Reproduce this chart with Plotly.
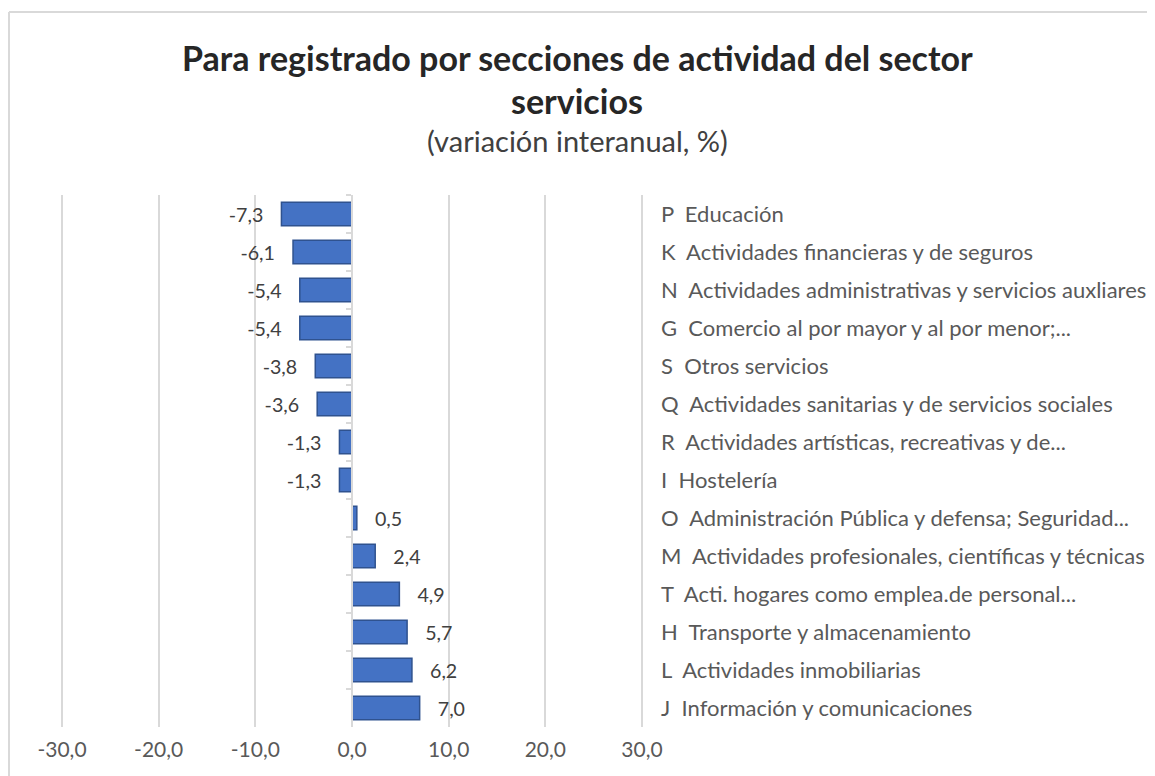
import plotly.graph_objects as go

categories = [
    "P\u00a0 Educación",
    "K\u00a0 Actividades financieras y de seguros",
    "N\u00a0 Actividades administrativas y servicios auxliares",
    "G\u00a0 Comercio al por mayor y al por menor;...",
    "S\u00a0 Otros servicios",
    "Q\u00a0 Actividades sanitarias y de servicios sociales",
    "R\u00a0 Actividades artísticas, recreativas y de...",
    "I\u00a0 Hostelería",
    "O\u00a0 Administración Pública y defensa; Seguridad...",
    "M\u00a0 Actividades profesionales, científicas y técnicas",
    "T\u00a0 Acti. hogares como emplea.de personal...",
    "H\u00a0 Transporte y almacenamiento",
    "L\u00a0 Actividades inmobiliarias",
    "J\u00a0 Información y comunicaciones",
]
values = [-7.3, -6.1, -5.4, -5.4, -3.8, -3.6, -1.3, -1.3, 0.5, 2.4, 4.9, 5.7, 6.2, 7.0]
x_ticks = [-30, -20, -10, 0, 10, 20, 30]
x_tick_labels = ["-30,0", "-20,0", "-10,0", "0,0", "10,0", "20,0", "30,0"]

title_line1 = "Para registrado por secciones de actividad del sector"
title_line2 = "servicios"
subtitle = "(variación interanual, %)"

FONT = "Lato"
NB = "\u00a0"


def fmt(v):
    s = f"{v:.1f}".replace(".", ",")
    return (s + NB * 3) if v < 0 else (NB * 3 + s)


labels = [fmt(v) for v in values]

# page offset compensation (browser body margin)
OFF = 8
W, H = 1155 - OFF, 776 - OFF
# -30 / +30 gridlines sit at reference x = 62 / 642; widen plot by PAD px each side
PAD = 6
SCALE = (642 - 62) / 60.0  # px per unit
XR = 30 + PAD / SCALE
L, R = 62 - PAD - OFF, 642 + PAD - OFF
T, B = 195 - OFF, 727 - OFF


def px_x(p):
    # reference-picture x pixel -> paper fraction
    return (p - OFF - L) / (R - L)


def px_y(p):
    return (B - (p - OFF)) / (B - T)


fig = go.Figure()
fig.add_trace(go.Bar(
    x=values, y=categories, orientation="h",
    marker=dict(color="#4472C4", line=dict(color="#2F528F", width=1.5)),
    width=0.62,
    text=labels, textposition="outside", cliponaxis=False,
    textfont=dict(family=FONT, size=20, color="#404040"),
    hoverinfo="skip", showlegend=False,
))
# invisible trace carrying the right-hand category labels
fig.add_trace(go.Scatter(
    x=[0] * len(categories), y=categories, yaxis="y2", mode="markers",
    marker=dict(opacity=0), hoverinfo="skip", showlegend=False,
))

n = len(categories)
fig.update_layout(
    width=W, height=H,
    margin=dict(l=L, r=W - R, t=T, b=H - B, autoexpand=False),
    paper_bgcolor="white", plot_bgcolor="white",
    font=dict(family=FONT, color="#595959"),
    xaxis=dict(
        range=[-XR, XR], tickvals=x_ticks, ticktext=x_tick_labels,
        showgrid=True, gridcolor="#D9D9D9", gridwidth=1.5,
        zeroline=False, showline=False, ticks="",
        tickfont=dict(family=FONT, size=21, color="#595959"),
        ticklabelstandoff=8, automargin=False,
    ),
    yaxis=dict(
        type="category", categoryorder="array", categoryarray=categories,
        range=[n - 0.5, -0.5], anchor="free", position=0.5,
        showline=True, linecolor="#D9D9D9", linewidth=1.5,
        ticks="outside", ticklen=5, tickcolor="#D9D9D9", tickwidth=1.5,
        tickson="boundaries", showticklabels=False, showgrid=False,
        automargin=False,
    ),
    yaxis2=dict(
        type="category", categoryorder="array", categoryarray=categories,
        range=[n - 0.5, -0.5], overlaying="y", side="right", anchor="x",
        showline=False, ticks="", showgrid=False, showticklabels=True,
        tickfont=dict(family=FONT, size=22, color="#595959"),
        ticklabelstandoff=18 - PAD, automargin=False,
    ),
    annotations=[
        dict(text=f"<b>{title_line1}</b>", xref="paper", yref="paper",
             x=px_x(577), y=px_y(57), xanchor="center", yanchor="middle",
             showarrow=False, font=dict(family=FONT, size=34, color="#262626")),
        dict(text=f"<b>{title_line2}</b>", xref="paper", yref="paper",
             x=px_x(577), y=px_y(101), xanchor="center", yanchor="middle",
             showarrow=False, font=dict(family=FONT, size=34, color="#262626")),
        dict(text=subtitle, xref="paper", yref="paper",
             x=px_x(577), y=px_y(140), xanchor="center", yanchor="middle",
             showarrow=False, font=dict(family=FONT, size=29, color="#404040")),
    ],
    shapes=[
        dict(type="line", xref="paper", yref="paper", x0=px_x(OFF + 1), x1=px_x(1165),
             y0=px_y(12), y1=px_y(12), line=dict(color="#D9D9D9", width=2)),
        dict(type="line", xref="paper", yref="paper", x0=px_x(OFF + 1), x1=px_x(OFF + 1),
             y0=px_y(12), y1=px_y(790), line=dict(color="#D9D9D9", width=2)),
    ],
)

fig.write_html("out.html", config={"displayModeBar": False})
